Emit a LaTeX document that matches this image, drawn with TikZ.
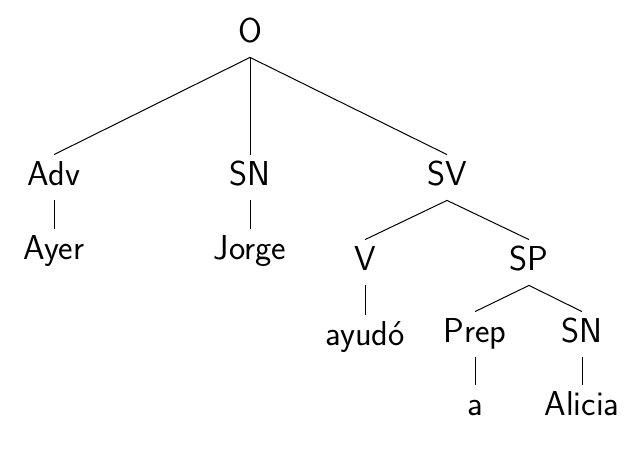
\documentclass[tikz,border=0pt]{standalone}
\usepackage{tikz}

\tikzset{
  cat/.style={font=\LARGE\sffamily, anchor=base, inner ysep=4pt,
    text height=11pt, text depth=3.5pt},
  branch/.style={draw=black, line width=0.5pt}
}

\begin{document}
\begin{tikzpicture}[x=0.5pt,y=-0.5pt]
    \useasboundingbox (0,0) rectangle (640,456);

    % nivel 0
    \node[cat] (O) at (250,42) {O};

    % nivel 1
    \node[cat] (adv) at (54,185) {Adv};
    \node[cat] (sn) at (250,185) {SN};
    \node[cat] (sv) at (447,185) {SV};

    \node[cat] (ayer) at (54,259) {Ayer};
    \node[cat] (jorge) at (250,259) {Jorge};

    % nivel 2
    \node[cat] (v) at (365,270) {V};
    \node[cat] (sp) at (529,270) {SP};

    \node[cat] (ayudo) at (365,345) {ayudó};
    \node[cat] (prep) at (475,342) {Prep};
    \node[cat] (snb) at (582,342) {SN};

    \node[cat] (a) at (475,415) {a};
    \node[cat] (alicia) at (582,415) {Alicia};

    \draw[branch] (O.south) -- (adv.north);
    \draw[branch] (O.south) -- (sn.north);
    \draw[branch] (O.south) -- (sv.north);

    \draw[branch] (adv.south) -- (ayer.north);
    \draw[branch] (sn.south) -- (jorge.north);

    \draw[branch] (sv.south) -- (v.north);
    \draw[branch] (sv.south) -- (sp.north);
    \draw[branch] (v.south) -- (ayudo.north);

    \draw[branch] (sp.south) -- (prep.north);
    \draw[branch] (sp.south) -- (snb.north);
    \draw[branch] (prep.south) -- (a.north);
    \draw[branch] (snb.south) -- (alicia.north);
\end{tikzpicture}
\end{document}
